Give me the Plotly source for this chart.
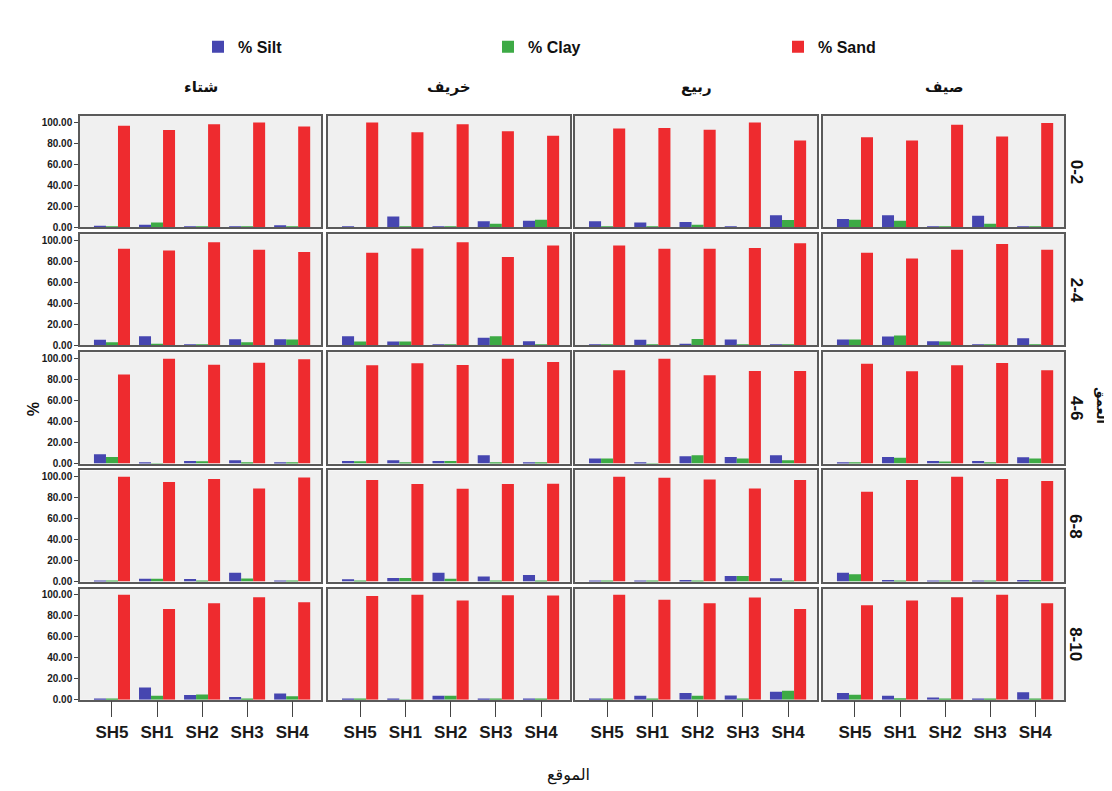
import plotly.graph_objects as go
from plotly.subplots import make_subplots

# ---------------- data ----------------
sites = ["SH5", "SH1", "SH2", "SH3", "SH4"]
seasons = ["شتاء", "خريف", "ربيع", "صيف"]
depths = ["0-2", "2-4", "4-6", "6-8", "8-10"]
y_ticks = [0, 20, 40, 60, 80, 100]

# [season][depth][site]
sand = [
    [[96.9, 92.8, 98.4, 100, 96.2], [92.2, 90.6, 98.4, 91.2, 89.0], [84.8, 100, 94.3, 96.2, 99.4],
     [100, 95.0, 97.8, 88.9, 99.4], [100, 86.4, 92.1, 97.8, 93.0]],
    [[100, 90.6, 98.4, 91.5, 87.4], [88.4, 92.5, 98.4, 84.4, 95.3], [93.7, 95.6, 94.0, 100, 96.8],
     [96.8, 93.0, 88.6, 93.0, 93.3], [99.0, 100, 94.6, 99.7, 99.4]],
    [[94.3, 94.7, 93.1, 100, 82.7], [95.3, 92.2, 92.2, 92.8, 97.5], [88.9, 100, 84.1, 88.3, 88.3],
     [100, 99.0, 97.5, 88.9, 96.8], [100, 95.3, 92.1, 97.5, 86.4]],
    [[85.8, 82.7, 97.8, 86.5, 99.4], [88.4, 82.8, 91.2, 96.8, 91.2], [95.2, 87.9, 93.6, 95.9, 88.9],
     [85.7, 96.8, 100, 97.8, 95.9], [90.0, 94.6, 97.8, 100, 92.1]],
]
silt = [
    [[1.5, 2.5, 0.3, 0.2, 2.0], [5.3, 8.7, 0.5, 6.0, 6.0], [8.9, 0.2, 2.5, 3.2, 0.3],
     [0.3, 2.8, 2.5, 8.5, 1.0], [0.5, 11.7, 4.4, 2.5, 6.0]],
    [[0.2, 10.4, 0.2, 5.7, 6.3], [8.7, 3.7, 0.5, 7.2, 4.0], [2.5, 3.2, 2.5, 7.9, 1.0],
     [2.2, 3.5, 8.5, 5.0, 6.3], [0.5, 0.2, 3.8, 0.5, 0.5]],
    [[5.7, 4.7, 5.0, 0.2, 11.6], [1.0, 5.3, 1.5, 5.6, 1.0], [4.8, 0.2, 7.0, 6.3, 7.9],
     [0.5, 1.0, 1.5, 5.4, 3.2], [0.5, 3.8, 6.3, 4.1, 7.6]],
    [[7.9, 11.6, 1.0, 11.0, 0.5], [5.6, 8.4, 4.0, 1.0, 6.9], [1.0, 6.3, 2.5, 2.5, 6.0],
     [8.5, 1.5, 0.5, 1.0, 1.5], [6.3, 3.8, 2.0, 0.5, 7.0]],
]
clay = [
    [[1.0, 4.5, 0.3, 0.2, 1.0], [3.0, 1.5, 0.5, 3.0, 5.6], [6.3, 0.1, 2.2, 0.6, 0.3],
     [0.2, 2.8, 0.5, 3.0, 0.5], [0.3, 3.8, 5.0, 0.5, 3.2]],
    [[0.1, 0.5, 0.2, 3.5, 7.2], [3.7, 3.7, 0.5, 8.7, 0.5], [2.2, 1.0, 2.5, 1.0, 1.0],
     [1.0, 3.5, 2.8, 1.0, 1.0], [0.3, 0.1, 3.8, 0.3, 0.3]],
    [[1.0, 1.0, 2.5, 0.1, 6.9], [1.0, 1.0, 6.2, 0.5, 0.5], [4.8, 0.1, 7.9, 4.8, 3.2],
     [0.3, 0.5, 1.0, 5.4, 0.5], [0.3, 1.0, 3.8, 0.5, 8.5]],
    [[7.2, 6.3, 0.5, 3.5, 0.3], [5.6, 9.4, 3.7, 0.5, 0.5], [1.0, 5.4, 2.0, 0.5, 4.8],
     [7.0, 0.8, 0.3, 1.0, 1.5], [4.7, 1.5, 0.5, 0.3, 1.0]],
]

series = [("% Silt", silt, "#4646B0"), ("% Clay", clay, "#3DAA45"), ("% Sand", sand, "#EE2B2F")]

# ---------------- layout geometry (pixels) ----------------
W, H = 1112, 791
col_px = [(72, 313), (320, 562), (567, 809), (815, 1056)]
row_px = [(109, 221), (228, 340), (347, 459), (466, 578), (585, 697)]

fig = make_subplots(rows=5, cols=4)
x_idx = list(range(len(sites)))

for c in range(4):
    for r in range(5):
        for name, data, color in series:
            fig.add_trace(go.Bar(
                x=x_idx, y=data[c][r], name=name, marker_color=color,
                marker_line_width=0, legendgroup=name,
                showlegend=(c == 0 and r == 0),
            ), row=r + 1, col=c + 1)
        x0, x1 = col_px[c]
        y0, y1 = row_px[r]
        fig.update_xaxes(
            domain=[x0 / W, x1 / W], range=[-0.71, 4.64],
            tickvals=x_idx, ticktext=sites,
            showline=True, mirror=True, linecolor="#5a5a5a", linewidth=1.5,
            showgrid=False, zeroline=False,
            ticks="outside" if r == 4 else "", ticklen=16, tickwidth=1, tickcolor="#444",
            showticklabels=(r == 4),
            tickfont=dict(family="Liberation Sans Narrow, Liberation Sans, Arial", size=17, color="#1a1a1a", weight="bold"),
            row=r + 1, col=c + 1)
        fig.update_yaxes(
            domain=[1 - y1 / H, 1 - y0 / H], range=[0, 106],
            tickvals=y_ticks, tickformat=".2f",
            showline=True, mirror=True, linecolor="#5a5a5a", linewidth=1.5,
            showgrid=False, zeroline=False,
            ticks="outside" if c == 0 else "", ticklen=4, tickwidth=1, tickcolor="#444",
            showticklabels=(c == 0),
            tickfont=dict(family="Liberation Sans Narrow, Liberation Sans, Arial", size=10, color="#1a1a1a", weight="bold"),
            row=r + 1, col=c + 1)

ann = []
def add_ann(xp, yp, text, font, angle=0):
    ann.append(dict(x=xp / W, y=1 - yp / H, text=text, showarrow=False, textangle=angle,
                    xref="paper", yref="paper", xanchor="center", yanchor="middle", font=font))

for c, s in enumerate(seasons):
    x0, x1 = col_px[c]
    add_ann((x0 + x1) / 2, 80, s, dict(family="DejaVu Sans", size=15, color="#111", weight="bold"))
for r, d in enumerate(depths):
    y0, y1 = row_px[r]
    add_ann(1068, (y0 + y1) / 2, d, dict(family="Liberation Sans", size=17, color="#111", weight="bold"), 90)
add_ann(1093, 400, "العمق", dict(family="DejaVu Sans", size=13, color="#111", weight="bold"), 90)
add_ann(24, 404, "%", dict(family="Liberation Sans", size=16, color="#111", weight="bold"), 90)
add_ann(560, 773, "الموقع", dict(family="DejaVu Serif, DejaVu Sans", size=16, color="#111"))

fig.update_layout(
    width=W, height=H, margin=dict(l=0, r=0, t=0, b=0),
    paper_bgcolor="white", plot_bgcolor="#F0F0F0",
    barmode="group", bargap=0.2, bargroupgap=0,
    annotations=ann,
    legend=dict(orientation="h", x=190 / W, y=1 - 22 / H, xanchor="left", yanchor="top",
                entrywidth=245, entrywidthmode="pixels", traceorder="normal",
                font=dict(family="Liberation Sans Narrow, Liberation Sans", size=16, color="#111", weight="bold"),
                bgcolor="rgba(0,0,0,0)"),
)

fig.write_html("out.html")
